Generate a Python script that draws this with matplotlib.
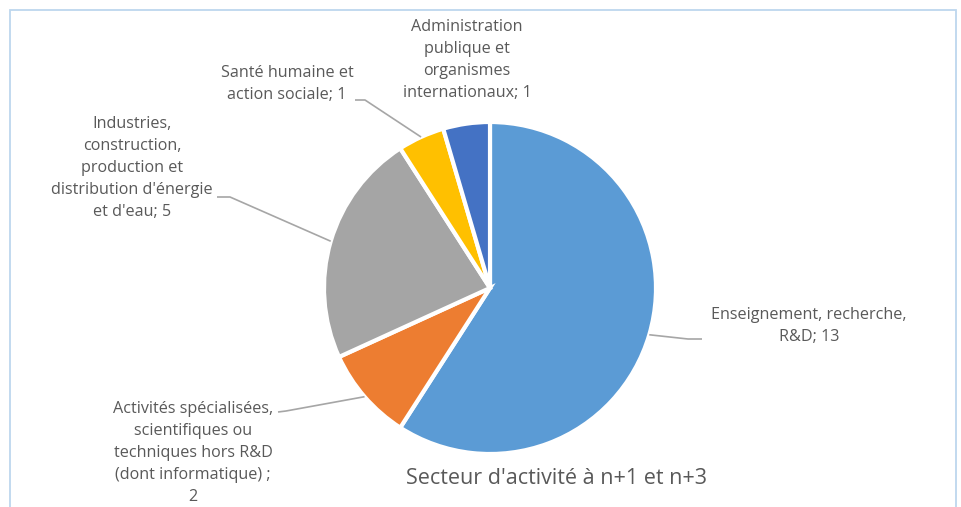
import matplotlib
matplotlib.use("Agg")
import matplotlib.pyplot as plt
from matplotlib.patches import Rectangle
import numpy as np

# data
sectors = [
    "Enseignement, recherche,\nR&D",
    "Activités spécialisées,\nscientifiques ou\ntechniques hors R&D\n(dont informatique) ;\n",
    "Industries,\nconstruction,\nproduction et\ndistribution d'énergie\net d'eau",
    "Santé humaine et\naction sociale",
    "Administration\npublique et\norganismes\ninternationaux",
]
counts = [13, 2, 5, 1, 1]
colors = ["#5B9BD5", "#ED7D31", "#A5A5A5", "#FFC000", "#4472C4"]
title = "Secteur d'activité à n+1 et n+3"

W, H = 961, 507
fig = plt.figure(figsize=(W / 100, H / 100), dpi=100)
ax = fig.add_axes([0, 0, 1, 1])

# chart frame (runs off the bottom edge)
ax.add_patch(Rectangle((10, -20), 946, H - 10 + 20, fill=False,
                       edgecolor="#BDD7EE", linewidth=1.3))

cx, cy, r = 490, H - 288, 166
wedges, _ = ax.pie(counts, colors=colors, startangle=90, counterclock=False,
                   center=(cx, cy), radius=r, frame=True,
                   wedgeprops=dict(edgecolor="white", linewidth=3))
ax.set_xlim(0, W)
ax.set_ylim(0, H)
ax.set_aspect("equal")
ax.axis("off")

text_color = "#595959"
line_color = "#A6A6A6"

# label layout (pixel coords from top), leader line elbow points
label_pos = [(809, 326), (193, 453), (132, 168), (287, 84), (467, 60)]
elbows = [[(688, 339), (702, 339)],
          [(286, 411), (278, 412)],
          [(230, 197), (217, 197)],
          [(365, 100), (355, 100)],
          None]

for i, (w, name, n) in enumerate(zip(wedges, sectors, counts)):
    mid = np.deg2rad((w.theta1 + w.theta2) / 2)
    lx, ly = label_pos[i]
    if name.endswith("\n"):
        txt = name + str(n)
    else:
        txt = f"{name}; {n}"
    ax.text(lx, H - ly, txt, ha="center", va="center", fontsize=11.6,
            color=text_color, family="Open Sans", linespacing=1.48)
    if elbows[i] is not None:
        px = cx + r * np.cos(mid)
        py = cy + r * np.sin(mid)
        xs = [px] + [p[0] for p in elbows[i]]
        ys = [py] + [H - p[1] for p in elbows[i]]
        ax.plot(xs, ys, color=line_color, linewidth=1.2, solid_capstyle="butt")

ax.text(556, H - 478, title, ha="center", va="center", fontsize=15.5,
        color=text_color, family="Open Sans")

fig.savefig("out.png", dpi=100)
